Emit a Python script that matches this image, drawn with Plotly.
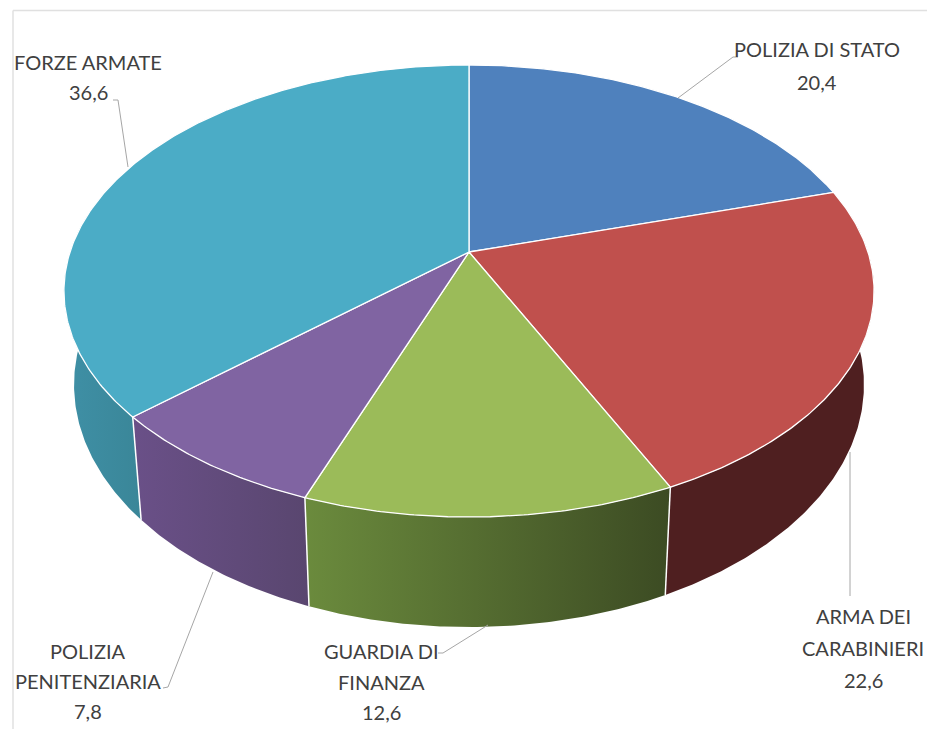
import math
import plotly.graph_objects as go

# ---------------- data ----------------
categories = ["POLIZIA DI STATO", "ARMA DEI CARABINIERI", "GUARDIA DI FINANZA",
              "POLIZIA PENITENZIARIA", "FORZE ARMATE"]
values = [20.4, 22.6, 12.6, 7.8, 36.6]
label_lines = [["POLIZIA DI STATO"], ["ARMA DEI", "CARABINIERI"], ["GUARDIA DI", "FINANZA"],
               ["POLIZIA", "PENITENZIARIA"], ["FORZE ARMATE"]]

# ---------------- styles ----------------
top_colors = ["#4F81BD", "#C0504D", "#9BBB59", "#8064A2", "#4BACC6"]
side_colors = [("#3A6190", "#2E4D73"), ("#4F1F20", "#4F1F20"), ("#6B8B3D", "#3C4B23"),
               ("#6A5088", "#59466F"), ("#3F90A6", "#3A8698")]
# label placement: (center x, first-line center y, line spacing) in pixels
label_pos = [(817, 49, 33), (863, 616, 32), (381, 651, 30.5), (88, 651, 30), (88, 62, 30)]
leaders = [[(678, 98), (733, 57), (738, 57)],
           [(850, 452), (850, 596)],
           [(488, 625), (443, 653), (438, 653)],
           [(213, 572), (168, 687), (163, 688)],
           [(128, 167), (118, 100), (113, 100)]]

W, H = 927, 729
CX, CY = 469, 252
R, RY, K, D, SX = 399, 219.3, 0.1726, 91, 0.975
FONT = "Lato, Roboto, sans-serif"
FONT_SIZE = 20


def proj(theta_deg, bottom=False):
    t = math.radians(theta_deg)
    u, v = math.sin(t), math.cos(t)
    f = 1.0 / (1.0 + K * v)
    if bottom:
        return CX + R * u * f * SX, CY + (-RY * v + D) * f
    return CX + R * u * f, CY - RY * v * f


def arc(a, b, bottom=False, step=0.5):
    n = max(2, int(abs(b - a) / step) + 1)
    return [proj(a + (b - a) * i / (n - 1), bottom) for i in range(n)]


total = sum(values)
bounds = [0.0]
for v in values:
    bounds.append(bounds[-1] + v / total * 360.0)

fig = go.Figure()

# side faces (front part only)
for i in range(len(values)):
    a, b = max(bounds[i], 80.0), min(bounds[i + 1], 280.0)
    if b <= a:
        continue
    pts = arc(a, b) + arc(b, a, bottom=True)
    xs = [p[0] for p in pts] + [pts[0][0]]
    ys = [p[1] for p in pts] + [pts[0][1]]
    c1, c2 = side_colors[i]
    fig.add_trace(go.Scatter(
        x=xs, y=ys, mode="lines", fill="toself", line=dict(width=0),
        fillcolor=c1,
        fillgradient=dict(type="horizontal", colorscale=[[0, c1], [1, c2]]),
        hoverinfo="skip", showlegend=False))

# white edges between slices on the side
for bnd in bounds[1:-1]:
    if 80.0 < bnd < 280.0:
        p0, p1 = proj(bnd), proj(bnd, bottom=True)
        fig.add_trace(go.Scatter(x=[p0[0], p1[0]], y=[p0[1], p1[1]], mode="lines",
                                 line=dict(color="white", width=1.5),
                                 hoverinfo="skip", showlegend=False))

# top faces
for i in range(len(values)):
    pts = [(CX, CY)] + arc(bounds[i], bounds[i + 1]) + [(CX, CY)]
    fig.add_trace(go.Scatter(
        x=[p[0] for p in pts], y=[p[1] for p in pts], mode="lines", fill="toself",
        fillcolor=top_colors[i], line=dict(color="white", width=1.3),
        name=categories[i], hoverinfo="name", showlegend=False))

# leader lines
for pts in leaders:
    fig.add_trace(go.Scatter(x=[p[0] for p in pts], y=[p[1] for p in pts], mode="lines",
                             line=dict(color="#A6A6A6", width=1),
                             hoverinfo="skip", showlegend=False))

# labels
annotations = []
for i in range(len(values)):
    x0, y0, sp = label_pos[i]
    lines = label_lines[i] + [f"{values[i]:.1f}".replace(".", ",")]
    for j, txt in enumerate(lines):
        annotations.append(dict(x=x0, y=y0 + j * sp, text=txt, showarrow=False,
                                xanchor="center", yanchor="middle",
                                font=dict(family=FONT, size=FONT_SIZE, color="#404040")))

# frame lines (chart area border)
shapes = [
    dict(type="line", x0=13, y0=10.5, x1=W, y1=10.5, line=dict(color="#E0E0E0", width=1.5)),
    dict(type="line", x0=13, y0=10.5, x1=13, y1=H, line=dict(color="#E0E0E0", width=1.5)),
]

fig.update_layout(
    width=W, height=H, margin=dict(l=0, r=0, t=0, b=0),
    paper_bgcolor="white", plot_bgcolor="white",
    xaxis=dict(range=[0, W], visible=False, fixedrange=True),
    yaxis=dict(range=[H, 0], visible=False, fixedrange=True),
    annotations=annotations, shapes=shapes, showlegend=False,
)

fig.write_html("out.html", config={"displayModeBar": False},
               post_script="document.body.style.margin='0';document.body.style.overflow='hidden';")
